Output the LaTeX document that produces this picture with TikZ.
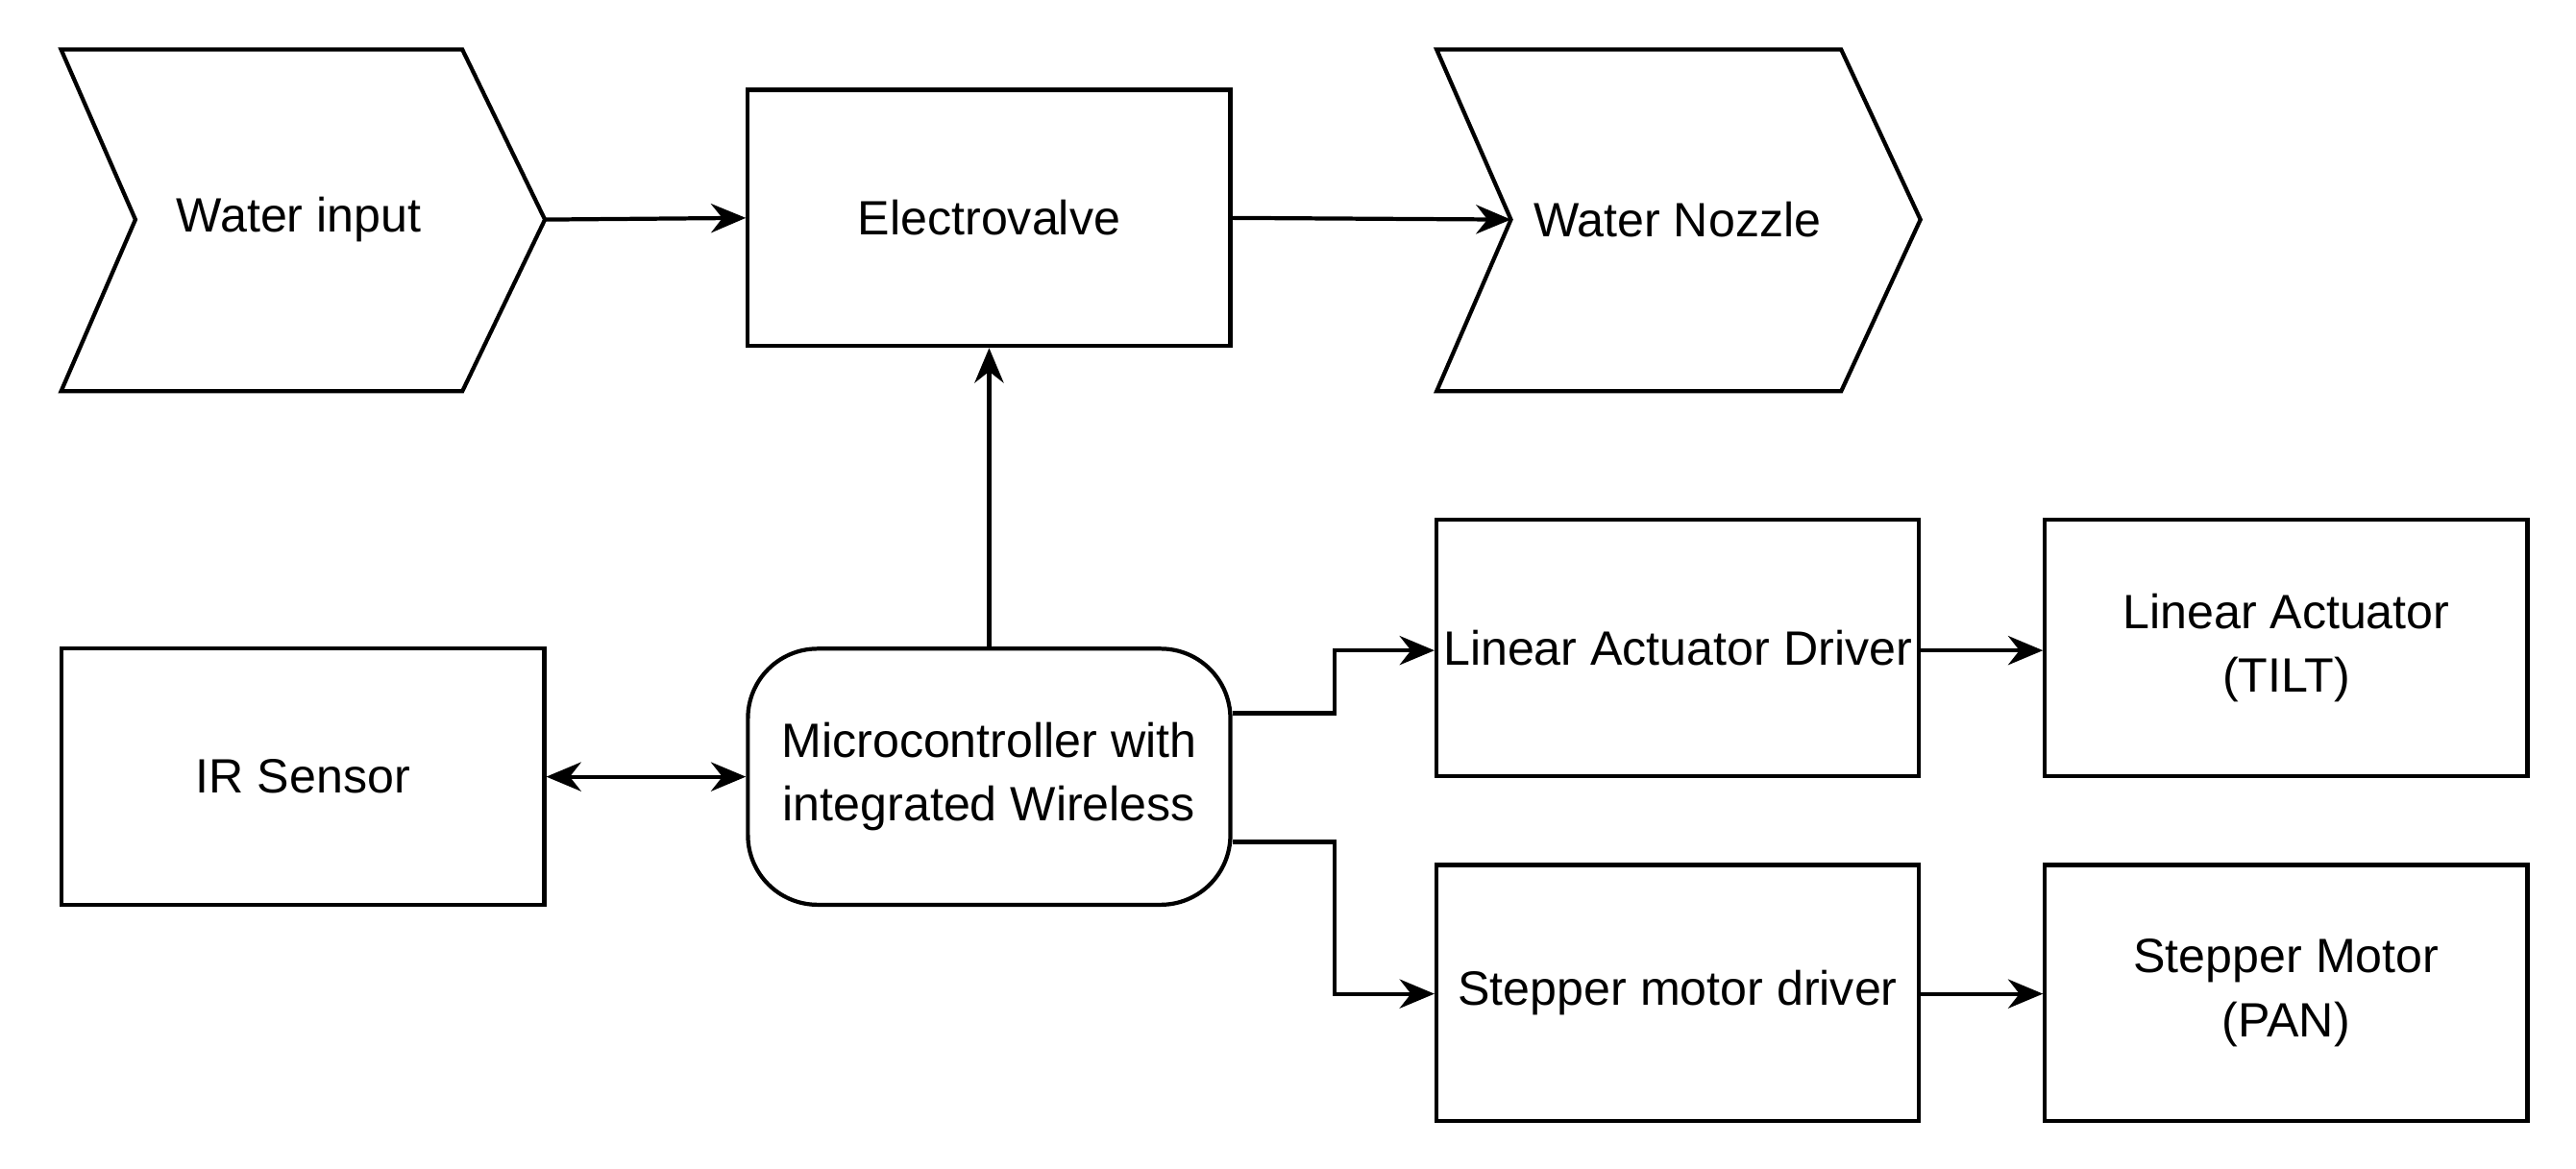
\documentclass[tikz,border=0pt]{standalone}
\usepackage{fontspec}
\setmainfont{Liberation Sans}
\usetikzlibrary{arrows.meta}
\begin{document}
\begin{tikzpicture}[x=0.01cm,y=-0.01cm,
  box/.style={draw,line width=0.7pt,minimum width=2.92cm,minimum height=1.55cm,align=center,inner sep=0pt,font=\fontsize{8.3}{11}\selectfont},
  lbl/.style={align=center,inner sep=0pt,font=\fontsize{8.3}{11}\selectfont},
  arr/.style={line width=0.7pt,-{Stealth[length=6pt,width=5pt]}}]
\useasboundingbox (0,0) rectangle (1560,708);
\fill[white] (0,0) rectangle (1560,708);
% chevrons
\draw[line width=0.7pt] (37,30) -- (280,30) -- (330,133) -- (280,237) -- (37,237) -- (82,133) -- cycle;
\node[lbl] (wi) at (181,133) {Water input};
\coordinate (wit) at (330,133);
\draw[line width=0.7pt] (870,30) -- (1115,30) -- (1163,133) -- (1115,237) -- (870,237) -- (915,133) -- cycle;
\node[lbl,anchor=west] (wn) at (928,133) {Water Nozzle};
\coordinate (wnn) at (915,133);
% boxes
\node[box] (ev) at (599,132) {Electrovalve};
\node[box] (ir) at (183.5,470.5) {IR Sensor};
\node[box,rounded corners=12pt] (mc) at (599,470.5) {Microcontroller with\\integrated Wireless};
\node[box] (lad) at (1016,392.5) {Linear Actuator Driver};
\node[box] (la) at (1384.5,392.5) {Linear Actuator\\(TILT)};
\node[box] (smd) at (1016,601.5) {Stepper motor driver};
\node[box] (sm) at (1384.5,601.5) {Stepper Motor\\(PAN)};
% connectors
\draw[arr] (wit) -- (ev.west);
\draw[arr] (ev.east) -- (wnn);
\draw[arr] (mc.north) -- (ev.south);
\draw[arr,{Stealth[length=6pt,width=5pt]}-{Stealth[length=6pt,width=5pt]}] (ir.east) -- (mc.west);
\draw[arr] (mc.east |- 0,432) -- (808,432) -- (808,394) -- (lad.west |- 0,394);
\draw[arr] (mc.east |- 0,510) -- (808,510) -- (808,602) -- (smd.west |- 0,602);
\draw[arr] (lad.east |- 0,394) -- (la.west |- 0,394);
\draw[arr] (smd.east |- 0,602) -- (sm.west |- 0,602);
\end{tikzpicture}
\end{document}
